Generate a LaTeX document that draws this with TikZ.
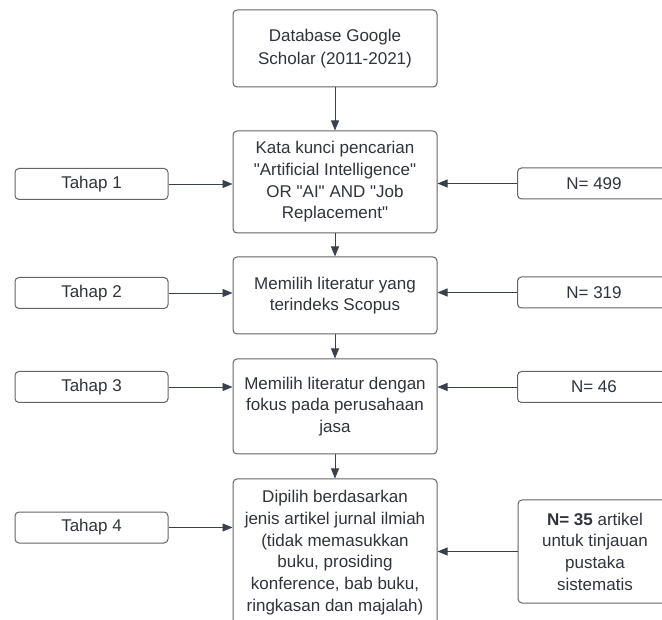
\documentclass[tikz,border=0pt]{standalone}
\usepackage{fontspec}
\newfontfamily\lsans{Liberation Sans}
\usetikzlibrary{arrows.meta}
\definecolor{txt}{RGB}{48,52,58}
\definecolor{bord}{RGB}{100,100,100}
\definecolor{arr}{RGB}{58,65,74}
\tikzset{
  box/.style={draw=bord, line width=1pt, rounded corners=4pt, fill=white, text=txt,
    align=center, inner sep=2pt, font=\lsans\fontsize{17}{21.7}\selectfont},
  mainbox/.style={box, minimum width=204pt},
  sidebox/.style={box, minimum width=153pt, minimum height=31pt},
  conn/.style={draw=arr, line width=0.9pt, -{Triangle[length=10pt,width=8pt]}}
}
\begin{document}
\begin{tikzpicture}[x=1pt,y=-1pt]
\path[use as bounding box] (0,0) rectangle (662,620);
\clip (0,0) rectangle (662,620);
\node[mainbox, minimum height=77pt, font=\lsans\fontsize{17}{23}\selectfont] (b1) at (335,48.5) {Database Google\\Scholar (2011-2021)};
\node[mainbox, minimum height=102pt] (b2) at (335,182) {Kata kunci pencarian\\"Artificial Intelligence"\\OR "AI" AND "Job\\Replacement"};
\node[mainbox, minimum height=77pt] (b3) at (335,295.5) {Memilih literatur yang\\terindeks Scopus};
\node[mainbox, minimum height=95pt] (b4) at (335,406.5) {Memilih literatur dengan\\fokus pada perusahaan\\jasa};
\node[mainbox, minimum height=147pt] (b5) at (335,552.5) {Dipilih berdasarkan\\jenis artikel jurnal ilmiah\\(tidak memasukkan\\buku, prosiding\\konference, bab buku,\\ringkasan dan majalah)};

\node[sidebox] (t1) at (91.5,184) {Tahap 1};
\node[sidebox] (t2) at (91.5,293) {Tahap 2};
\node[sidebox] (t3) at (91.5,387) {Tahap 3};
\node[sidebox] (t4) at (91.5,527.5) {Tahap 4};

\node[sidebox] (n1) at (594,183.5) {N= 499};
\node[sidebox] (n2) at (594,292.5) {N= 319};
\node[sidebox] (n3) at (594,387) {N= 46};
\node[sidebox, minimum width=154pt, minimum height=103pt] (n4) at (595,551.5) {\textbf{N= 35} artikel\\untuk tinjauan\\pustaka\\sistematis};

\draw[conn] (b1) -- (b2);
\draw[conn] (b2) -- (b3);
\draw[conn] (b3) -- (b4);
\draw[conn] (b4) -- (b5);

\draw[conn] (t1.east) -- (t1.east -| b2.west);
\draw[conn] (t2.east) -- (t2.east -| b3.west);
\draw[conn] (t3.east) -- (t3.east -| b4.west);
\draw[conn] (t4.east) -- (t4.east -| b5.west);

\draw[conn] (n1.west) -- (n1.west -| b2.east);
\draw[conn] (n2.west) -- (n2.west -| b3.east);
\draw[conn] (n3.west) -- (n3.west -| b4.east);
\draw[conn] (n4.west) -- (n4.west -| b5.east);
\end{tikzpicture}
\end{document}
